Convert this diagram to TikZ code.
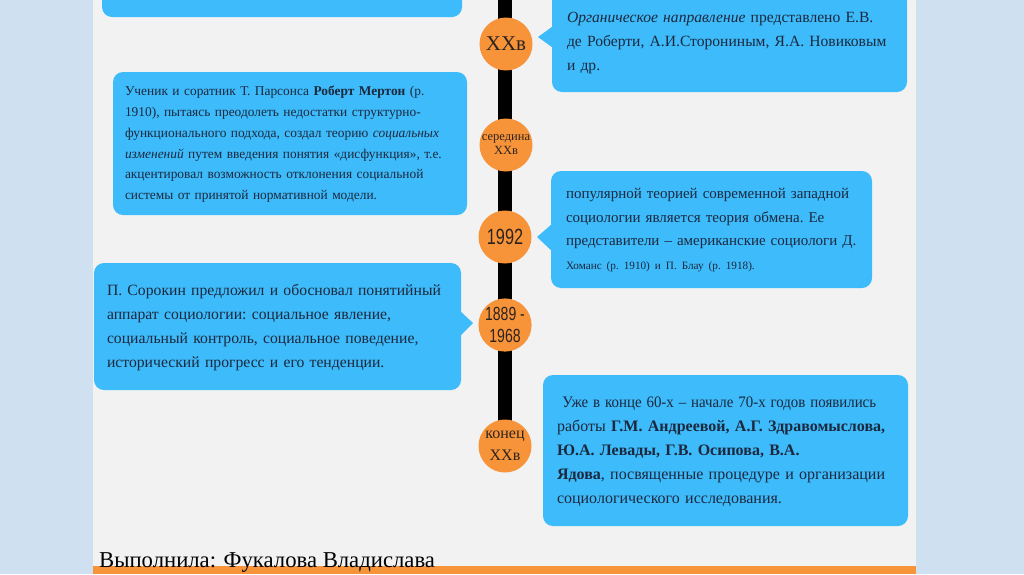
\documentclass[tikz,border=0pt]{standalone}
\usepackage{fontspec}
\usepackage{graphicx}
\setmainfont{Liberation Serif}
\newfontfamily\numfont{Liberation Sans}
\definecolor{margincol}{RGB}{207,224,241}
\definecolor{panelcol}{RGB}{242,242,242}
\definecolor{boxcol}{RGB}{61,187,250}
\definecolor{orangecol}{RGB}{247,148,58}
\definecolor{txtcol}{RGB}{28,40,62}
\definecolor{circtxt}{RGB}{45,35,30}
\pgfdeclarelayer{bg}
\pgfdeclarelayer{mid}
\pgfsetlayers{bg,mid,main}
\newcommand{\numtxt}[1]{\scalebox{0.74}[1]{#1}}
\newcommand{\boxlines}[1]{\frenchspacing\begin{tabular}{@{}l@{}}#1\end{tabular}}
\tikzset{
  box/.style={fill=boxcol, rounded corners=10pt, text=txtcol, align=left, inner ysep=0pt},
  dot/.style={circle, fill=orangecol, minimum size=53pt, inner sep=0pt, text=circtxt, align=center},
  timeline/.style={line width=14pt, black}
}
\begin{document}
\begin{tikzpicture}[x=1pt,y=-1pt]
\useasboundingbox (0,0) rectangle (1024,574);
\clip (0,0) rectangle (1024,574);
\begin{pgfonlayer}{bg}
\fill[margincol] (0,0) rectangle (1024,574);
\fill[panelcol] (93,0) rectangle (916,574);
\fill[orangecol] (93,566) rectangle (916,574);
\end{pgfonlayer}

% circles
\node[dot, font=\fontsize{21}{21}\selectfont] (c1) at (506,44) {XXв};
\node[dot, font=\fontsize{12.5}{14}\selectfont] (c2) at (506,145) {середина\\XXв};
\node[dot, font=\numfont\fontsize{22}{22}\selectfont] (c3) at (505,237) {\numtxt{1992}};
\node[dot, font=\numfont\fontsize{19}{22}\selectfont] (c4) at (505,325) {\numtxt{1889 -}\\\numtxt{1968}};
\node[dot, font=\fontsize{16}{22}\selectfont] (c5) at (505,446) {конец\\XXв};
\coordinate (ltop) at (505,-5);
\begin{pgfonlayer}{mid}
\draw[timeline] (ltop) -- (c5.center);
\end{pgfonlayer}

% top-left partial box
\node[box, minimum width=360pt, minimum height=80pt, inner sep=0pt] (tl) at (282,-23) {};

% top-right box
\node[box, minimum width=355pt, minimum height=101pt, text width=325pt, inner xsep=15pt,
      font=\fontsize{15.6}{24}\selectfont] (tr) at (729.5,41.5)
{\boxlines{\textit{Органическое направление} представлено Е.В.\\ де Роберти, А.И.Сторониным, Я.А. Новиковым\\ и др.}};
\fill[boxcol] (tr.west |- 0,27) -- (538,37) -- (tr.west |- 0,47) -- cycle;

% Merton box
\node[box, minimum width=354pt, minimum height=143pt, text width=330pt, inner xsep=12pt,
      font=\fontsize{13.4}{20.8}\selectfont] (merton) at (290,143.5)
{\boxlines{Ученик и соратник Т. Парсонса \textbf{Роберт Мертон} (р.\\
1910), пытаясь преодолеть недостатки структурно-\\
функционального подхода, создал теорию \textit{социальных}\\
\textit{изменений} путем введения понятия «дисфункция», т.е.\\
акцентировал возможность отклонения социальной\\
системы от принятой нормативной модели.}};

% 1992 box
\node[box, minimum width=321pt, minimum height=117pt, text width=291pt, inner xsep=15pt,
      font=\fontsize{15}{23.5}\selectfont] (b1992) at (711.5,229.5)
{\boxlines{популярной теорией современной западной\\
социологии является теория обмена. Ее\\
представители – американские социологи Д.\\
{\fontsize{11.2}{23.5}\selectfont Хоманс (р. 1910) и П. Блау (р. 1918).}}};
\fill[boxcol] (b1992.west |- 0,225) -- (537,237) -- (b1992.west |- 0,250) -- cycle;

% Sorokin box
\node[box, minimum width=367pt, minimum height=127pt, text width=341pt, inner xsep=13pt,
      font=\fontsize{15.7}{24}\selectfont] (sorokin) at (277.5,326.5)
{\boxlines{П. Сорокин предложил и обосновал понятийный\\
аппарат социологии: социальное явление,\\
социальный контроль, социальное поведение,\\
исторический прогресс и его тенденции.}};
\fill[boxcol] (sorokin.east |- 0,312) -- (473,323) -- (sorokin.east |- 0,335) -- cycle;

% last box
\node[box, minimum width=365pt, minimum height=151pt, text width=337pt, inner xsep=14pt,
      font=\fontsize{16}{24}\selectfont] (last) at (725.5,450.5)
{\boxlines{\ \scalebox{0.93}[1]{Уже в конце 60-х – начале 70-х годов появились}\\
работы \textbf{Г.М. Андреевой, А.Г. Здравомыслова,}\\
\textbf{Ю.А. Левады, Г.В. Осипова, В.А.}\\
\textbf{Ядова}, посвященные процедуре и организации\\
социологического исследования.}};

% footer
\node[anchor=base west, inner sep=0pt, text=black, font=\fontsize{22.7}{22.7}\selectfont] (footer) at (99,567)
{Выполнила: Фукалова Владислава};
\end{tikzpicture}
\end{document}
